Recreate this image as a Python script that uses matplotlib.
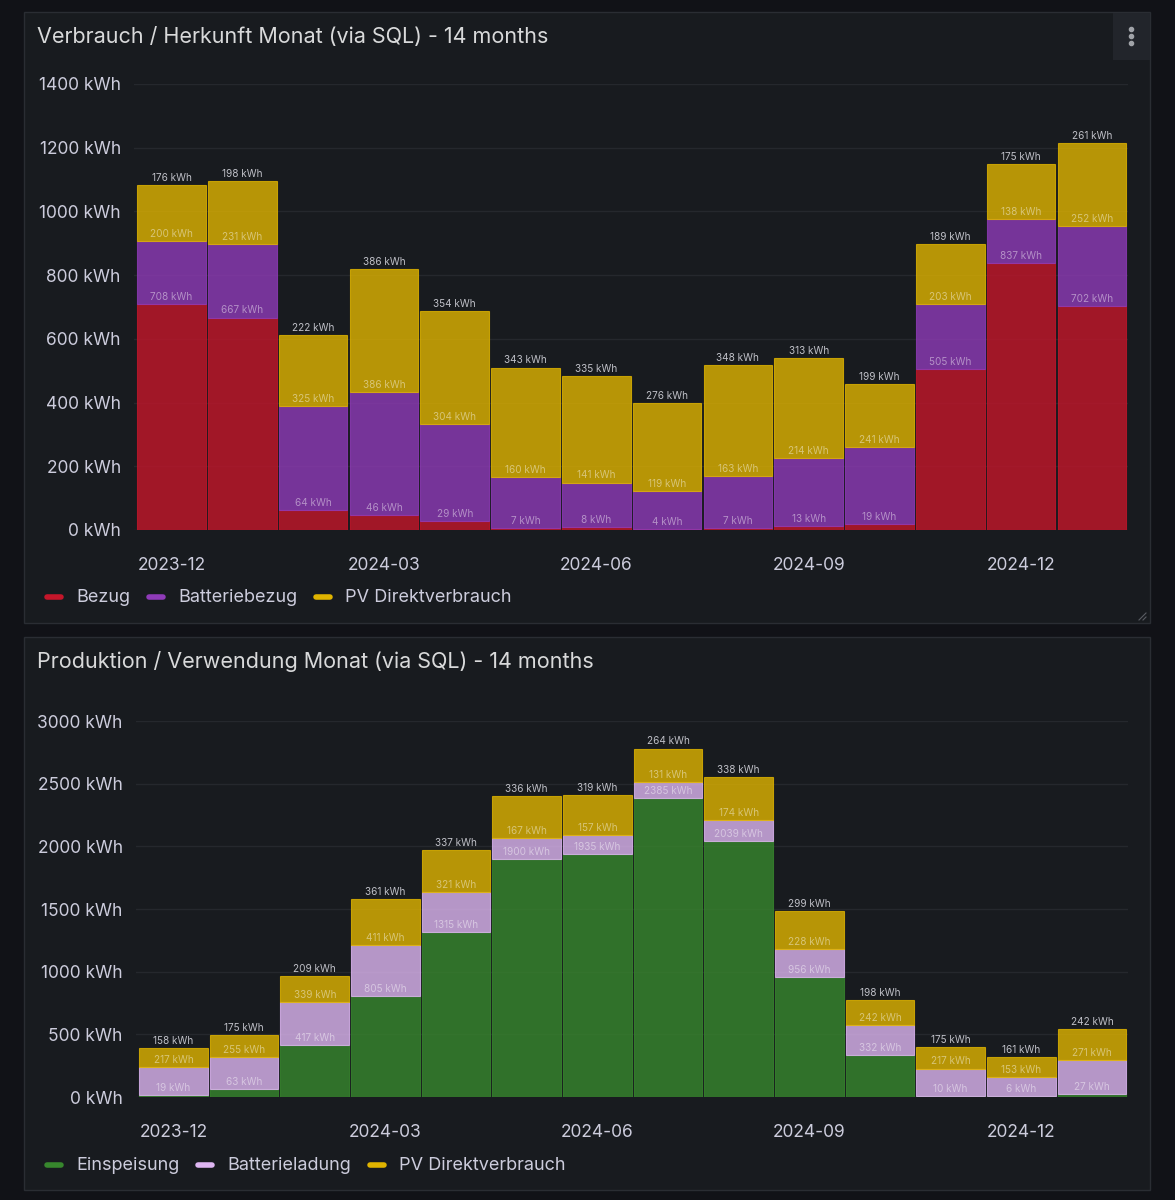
import matplotlib
matplotlib.use('Agg')
import matplotlib.pyplot as plt
from matplotlib.patches import Rectangle
from matplotlib.lines import Line2D
from matplotlib.ticker import FuncFormatter

plt.rcParams['font.family'] = ['Inter', 'DejaVu Sans']

# Monate (14)
months = ['2023-12', '2024-01', '2024-02', '2024-03', '2024-04', '2024-05', '2024-06',
          '2024-07', '2024-08', '2024-09', '2024-10', '2024-11', '2024-12', '2025-01']
tick_months = ['2023-12', '2024-03', '2024-06', '2024-09', '2024-12']

# Verbrauch / Herkunft (kWh)
bezug = [708, 667, 64, 46, 29, 7, 8, 4, 7, 13, 19, 505, 837, 702]
batteriebezug = [200, 231, 325, 386, 304, 160, 141, 119, 163, 214, 241, 203, 138, 252]
pv_direkt_verbrauch = [176, 198, 222, 386, 354, 343, 335, 276, 348, 313, 199, 189, 175, 261]

# Produktion / Verwendung (kWh)
einspeisung = [19, 63, 417, 805, 1315, 1900, 1935, 2385, 2039, 956, 332, 10, 6, 27]
batterieladung = [217, 255, 339, 411, 321, 167, 157, 131, 174, 228, 242, 217, 153, 271]
pv_direkt_produktion = [158, 175, 209, 361, 337, 336, 319, 264, 338, 299, 198, 175, 161, 242]

RED = '#c4162a'
PURPLE = '#8f3bb8'
YELLOW = '#e0b400'
GREEN = '#37872d'
LIGHT_PURPLE = '#deb6f2'

BG = '#111217'
PANEL = '#181b1f'
BORDER = '#2a2d33'
TEXT = '#ccccdc'
GRID = '#25282d'

W, H = 1175, 1200
fig = plt.figure(figsize=(W / 100, H / 100), dpi=100, facecolor=BG)


def fx(px):
    return px / W


def fy(py):
    return 1 - py / H


def panel(x0, y0, x1, y1, title):
    fig.patches.append(Rectangle((fx(x0), fy(y1)), (x1 - x0) / W, (y1 - y0) / H,
                                 transform=fig.transFigure, facecolor=PANEL,
                                 edgecolor=BORDER, lw=1, zorder=-10))
    fig.text(fx(x0 + 13), fy(y0 + 25), title, color='#d8d9da', fontsize=15.5,
             va='center', ha='left')


def legend(y, items):
    r = fig.canvas.get_renderer()
    x = 44
    for label, color in items:
        fig.add_artist(Line2D([fx(x + 3), fx(x + 17)], [fy(y), fy(y)], transform=fig.transFigure,
                              color=color, lw=4, solid_capstyle='round'))
        t = fig.text(fx(x + 32), fy(y), label, color=TEXT, fontsize=13, va='center', ha='left')
        bb = t.get_window_extent(r)
        x = bb.x1 + 16


def stacked(ax, series, colors, ymax, step):
    x = list(range(len(months)))
    bottom = [0] * len(months)
    n = len(series)
    for k, (vals, col) in enumerate(zip(series, colors)):
        ax.bar(x, vals, width=0.97, bottom=bottom, color=col, alpha=0.8,
               edgecolor=col, linewidth=0.8, zorder=2)
        tops = [b + v for b, v in zip(bottom, vals)]
        for i, (t, v) in enumerate(zip(tops, vals)):
            if k == n - 1:
                ax.annotate(f'{v} kWh', (i, t), xytext=(0, 1.5), textcoords='offset points',
                            ha='center', va='bottom', fontsize=7.2, color='#bfc0c7', zorder=4)
            else:
                ax.annotate(f'{v} kWh', (i, t), xytext=(0, 1.5), textcoords='offset points',
                            ha='center', va='bottom', fontsize=7.2, color='white', alpha=0.45,
                            zorder=4)
        bottom = tops
    ax.set_facecolor('none')
    ax.set_xlim(-0.53, 13.51)
    ax.set_ylim(0, ymax)
    ax.set_yticks(range(0, ymax + 1, step))
    ax.yaxis.set_major_formatter(FuncFormatter(lambda v, p: f'{int(v)} kWh'))
    ax.set_xticks([months.index(m) for m in tick_months])
    ax.set_xticklabels(tick_months)
    for s in ax.spines.values():
        s.set_visible(False)
    ax.grid(axis='y', color=GRID, lw=1, zorder=0)
    ax.set_axisbelow(True)
    ax.tick_params(axis='both', length=0, labelcolor=TEXT, labelsize=12.5)
    ax.tick_params(axis='y', pad=9.5)
    ax.tick_params(axis='x', pad=19.5)


# Panel 1
panel(24, 12, 1150, 623, 'Verbrauch / Herkunft Monat (via SQL) - 14 months')
fig.patches.append(Rectangle((fx(1113), fy(60)), 37 / W, 47 / H, transform=fig.transFigure,
                             facecolor='#22252b', edgecolor='none', zorder=-5))
fig.add_artist(Line2D([fx(1131)] * 3, [fy(29), fy(36), fy(43)], transform=fig.transFigure,
                      ls='none', marker='o', ms=3, color='#a0a3a8'))
fig.add_artist(Line2D([fx(1139), fx(1146)], [fy(620), fy(613)], transform=fig.transFigure,
                      color='#5a5d63', lw=0.8))
fig.add_artist(Line2D([fx(1143), fx(1146)], [fy(620), fy(617)], transform=fig.transFigure,
                      color='#5a5d63', lw=0.8))

ax1 = fig.add_axes([fx(134), fy(530), (1128 - 134) / W, (530 - 84) / H], zorder=1)
stacked(ax1, [bezug, batteriebezug, pv_direkt_verbrauch], [RED, PURPLE, YELLOW], 1400, 200)
legend(597, [('Bezug', RED), ('Batteriebezug', PURPLE), ('PV Direktverbrauch', YELLOW)])

# Panel 2
panel(24, 637, 1150, 1190, 'Produktion / Verwendung Monat (via SQL) - 14 months')
ax2 = fig.add_axes([fx(136), fy(1097), (1128 - 136) / W, (1097 - 721) / H], zorder=1)
stacked(ax2, [einspeisung, batterieladung, pv_direkt_produktion], [GREEN, LIGHT_PURPLE, YELLOW],
        3000, 500)
legend(1165, [('Einspeisung', GREEN), ('Batterieladung', LIGHT_PURPLE),
              ('PV Direktverbrauch', YELLOW)])

fig.savefig('out.png', dpi=100, facecolor=BG)
